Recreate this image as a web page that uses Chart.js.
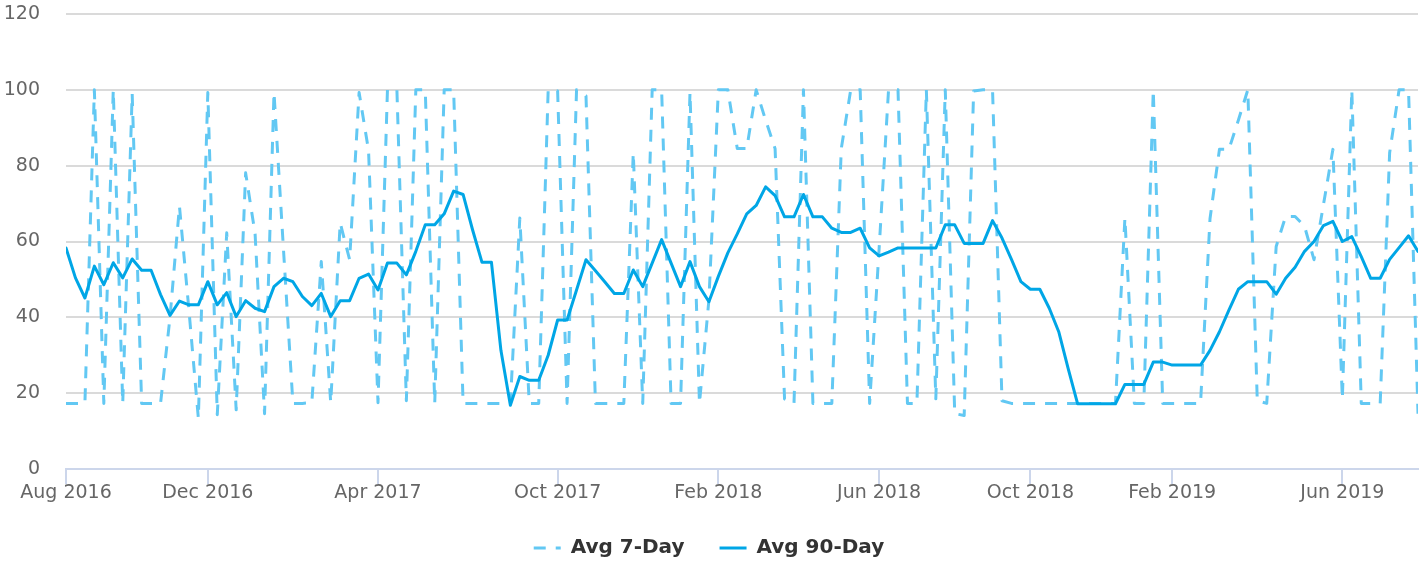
<!DOCTYPE html>
<html>
<head>
<meta charset="utf-8">
<title>Avg 7-Day / Avg 90-Day</title>
<script src="https://cdn.jsdelivr.net/npm/chart.js@4/dist/chart.umd.min.js"></script>
<style>
  html, body { margin: 0; padding: 0; background: #ffffff; }
  #wrap { width: 1421px; height: 563px; position: relative; }
</style>
</head>
<body>
<div id="wrap"><canvas id="chart"></canvas></div>
<script>
// Series values, one entry per reporting period (periods are evenly spaced on the axis)
const avg7 = [
  17.3, 17.3, 17.3, 100, 17.3, 100, 17.3, 99, 17.3, 17.3,
  17.3, 40, 69.3, 42, 13.4, 99.3, 14.3, 62.3, 15.6, 78.1,
  62, 14.6, 99.3, 58, 17.3, 17.3, 17.5, 54.7, 17.5, 64.9,
  55.2, 99.3, 84, 17.5, 100, 100, 18, 100, 100, 17.3,
  100, 100, 17.3, 17.3, 17.3, 17.3, 17.3, 17.3, 66.2, 17.3,
  17.3, 100, 99.7, 17.3, 100, 98.4, 17.3, 17.3, 17.3, 17.3,
  83.4, 17.3, 100, 100, 17.3, 17.3, 99.3, 17.3, 44.6, 100,
  100, 84.5, 84.5, 100, 92, 84.5, 18.5, 17.3, 100, 17.3,
  17.3, 17.3, 84.5, 100, 100, 17.3, 58, 100, 100, 17.3,
  17.3, 100, 18.5, 100, 14.6, 14.1, 99.7, 100, 100, 18,
  17.3, 17.3, 17.3, 17.3, 17.3, 17.3, 17.3, 17.3, 17.3, 17.3,
  17.3, 17.3, 66.2, 17.3, 17.3, 100, 17.3, 17.3, 17.3, 17.3,
  17.3, 66, 84.3, 84.3, 92, 100, 18, 17.3, 58.7, 66.6,
  66.6, 64, 55.2, 69.7, 84.3, 18.5, 100, 17.3, 17.3, 17.3,
  83.4, 100, 100, 14.6
];

const avg90 = [
  58.3, 50.4, 45.1, 53.5, 48.6, 54.4, 50.4, 55.4, 52.4, 52.4,
  46.0, 40.5, 44.3, 43.3, 43.3, 49.4, 43.3, 46.5, 40.2, 44.4,
  42.4, 41.5, 48.1, 50.3, 49.4, 45.5, 43.1, 46.3, 40.2, 44.4,
  44.4, 50.3, 51.4, 47.2, 54.3, 54.3, 51.2, 57.4, 64.4, 64.4,
  67.3, 73.3, 72.4, 63.1, 54.5, 54.5, 31.3, 16.8, 24.4, 23.4,
  23.4, 30.0, 39.3, 39.3, 47.2, 55.2, 52.3, 49.3, 46.3, 46.3,
  52.5, 48.1, 54.3, 60.5, 54.3, 48.1, 54.7, 48.1, 44.1, 50.8,
  57.0, 62.0, 67.3, 69.5, 74.4, 72.1, 66.5, 66.5, 72.4, 66.5,
  66.5, 63.5, 62.4, 62.4, 63.5, 58.3, 56.2, 57.2, 58.3, 58.3,
  58.3, 58.3, 58.3, 64.4, 64.4, 59.5, 59.5, 59.5, 65.5, 60.9,
  55.3, 49.4, 47.4, 47.4, 42.4, 36.2, 26.5, 17.2, 17.2, 17.2,
  17.2, 17.2, 22.3, 22.3, 22.3, 28.2, 28.2, 27.4, 27.4, 27.4,
  27.4, 31.3, 36.2, 41.9, 47.4, 49.4, 49.4, 49.4, 46.1, 50.3,
  53.2, 57.4, 60.0, 64.2, 65.3, 60.0, 61.3, 56.0, 50.3, 50.3,
  55.3, 58.4, 61.5, 57.4
];

// Month labels and the period each one falls on
const tickIndex = [0, 15, 33, 52, 69, 86, 102, 117, 135];
const tickLabels = ['Aug 2016', 'Dec 2016', 'Apr 2017', 'Oct 2017', 'Feb 2018',
                    'Jun 2018', 'Oct 2018', 'Feb 2019', 'Jun 2019'];

const seriesNames = ['Avg 90-Day', 'Avg 7-Day'];

const SOLID = '#00a6e6';
const LIGHT = '#62c8f3';
const AXIS = '#ccd6eb';
const GRID = '#dadada';

Chart.defaults.font.family = "'DejaVu Sans', 'Liberation Sans', sans-serif";

const toPoints = arr => arr.map((v, i) => ({ x: i, y: v }));

// keeps the legend band compact while its items stay widely spaced
const legendBand = {
  id: 'legendBand',
  beforeInit(chart) {
    const lg = chart.legend;
    if (!lg || lg._bandPatched) return;
    const fit = lg.fit;
    lg.fit = function () {
      fit.call(this);
      this.height = 60;
    };
    lg._bandPatched = true;
  }
};

new Chart(document.getElementById('chart'), {
  type: 'line',
  data: {
    datasets: [
      {
        label: seriesNames[0],
        data: toPoints(avg90),
        borderColor: SOLID,
        backgroundColor: SOLID,
        borderWidth: 3,
        borderJoinStyle: 'round',
        borderCapStyle: 'round',
        pointRadius: 0,
        tension: 0,
        fill: false
      },
      {
        label: seriesNames[1],
        data: toPoints(avg7),
        borderColor: LIGHT,
        backgroundColor: LIGHT,
        borderWidth: 3,
        borderDash: [12, 10],
        borderJoinStyle: 'round',
        borderCapStyle: 'butt',
        pointRadius: 0,
        tension: 0,
        fill: false
      }
    ]
  },
  options: {
    responsive: true,
    maintainAspectRatio: false,
    animation: false,
    devicePixelRatio: 1,
    layout: { padding: { top: 14, right: 3, left: 0, bottom: 0 } },
    interaction: { mode: 'nearest', intersect: false },
    plugins: {
      tooltip: { enabled: false },
      legend: {
        position: 'bottom',
        reverse: true,
        labels: {
          usePointStyle: true,
          pointStyle: 'line',
          pointStyleWidth: 27,
          padding: 35,
          color: '#333333',
          font: { size: 20, weight: 'bold' },
          generateLabels(chart) {
            return chart.data.datasets.map((ds, i) => ({
              text: ds.label,
              strokeStyle: ds.borderColor,
              fillStyle: ds.borderColor,
              lineWidth: 3,
              lineDash: ds.borderDash || [],
              lineCap: 'butt',
              pointStyle: 'line',
              fontColor: '#333333',
              hidden: !chart.isDatasetVisible(i),
              datasetIndex: i
            }));
          }
        }
      }
    },
    scales: {
      x: {
        type: 'linear',
        min: 0,
        max: avg90.length - 1,
        afterBuildTicks(scale) {
          scale.ticks = tickIndex.map(v => ({ value: v }));
        },
        afterFit(scale) { scale.height = 34; },
        ticks: {
          autoSkip: false,
          maxRotation: 0,
          minRotation: 0,
          padding: 0,
          color: '#666666',
          font: { size: 19, lineHeight: 1 },
          callback: (value, index) => tickLabels[index]
        },
        grid: {
          drawOnChartArea: false,
          drawTicks: true,
          tickLength: 15,
          color: AXIS,
          lineWidth: 2
        },
        border: { display: true, color: AXIS, width: 2 }
      },
      y: {
        min: 0,
        max: 120,
        afterFit(scale) { scale.width = 66; },
        ticks: {
          stepSize: 20,
          padding: 0,
          color: '#666666',
          font: { size: 19 }
        },
        grid: {
          drawTicks: true,
          tickLength: 26,
          tickColor: 'rgba(0,0,0,0)',
          lineWidth: 2,
          color: ctx => (ctx.tick && ctx.tick.value === 0) ? 'rgba(0,0,0,0)' : GRID
        },
        border: { display: false }
      }
    }
  },
  plugins: [legendBand]
});
</script>
</body>
</html>
